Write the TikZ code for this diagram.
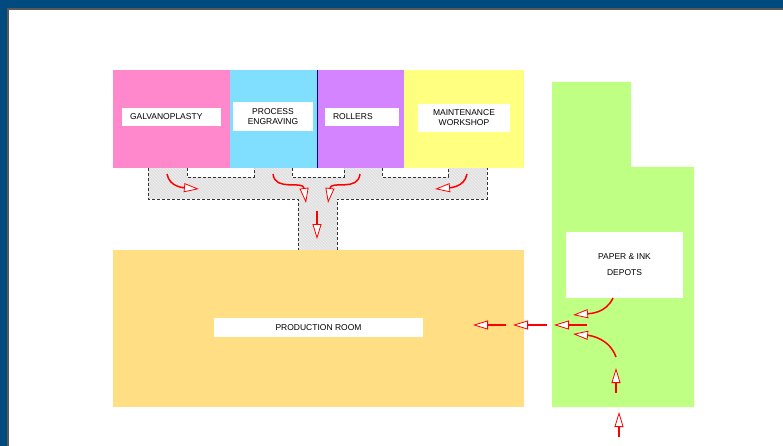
\documentclass[tikz,border=0pt]{standalone}
\usepackage{fontspec}
\setmainfont{Liberation Sans}
\usetikzlibrary{arrows.meta,patterns}

\definecolor{frameblue}{RGB}{0,74,127}
\definecolor{galvpink}{RGB}{255,136,204}
\definecolor{engrcyan}{RGB}{128,222,255}
\definecolor{rollpurple}{RGB}{212,132,255}
\definecolor{mainyellow}{RGB}{255,255,128}
\definecolor{prodorange}{RGB}{255,222,132}
\definecolor{depotgreen}{RGB}{190,255,132}
\definecolor{corrgray}{RGB}{224,224,224}
\definecolor{hatchgray}{RGB}{240,240,240}

\tikzset{
  roomlabel/.style={fill=white,inner sep=0pt,font=\fontsize{8.5}{10}\selectfont,align=center},
  flow/.style={draw=red,line width=1.5pt,-{Triangle[length=15pt,width=9pt,fill=white,line width=0.8pt]}},
  corredge/.style={gray!40!black,densely dashed,line width=0.6pt}
}

\begin{document}
\begin{tikzpicture}[x=1pt,y=1pt]
\useasboundingbox (0,0) rectangle (783,-446);
\fill [frameblue] (0,0) rectangle (783,-446);
\fill [gray!70!black] (7,-8) rectangle (783,-446);
\fill [white] (9,-10) rectangle (783,-446);
\fill [corrgray,postaction={pattern=north west lines,pattern color=hatchgray}] (148,-168) -- (148,-199) -- (298,-199) -- (298,-250) -- (337,-250) -- (337,-199) -- (487,-199) -- (487,-168) -- cycle;
\draw [corredge] (148,-168) -- (148,-199) -- (298,-199) -- (298,-250);
\draw [corredge] (337,-250) -- (337,-199) -- (487,-199) -- (487,-168);
\draw [corredge,fill=white] (187,-168) -- (187,-177) -- (254,-177) -- (254,-168);
\draw [corredge,fill=white] (292,-168) -- (292,-177) -- (344,-177) -- (344,-168);
\draw [corredge,fill=white] (382,-168) -- (382,-177) -- (448,-177) -- (448,-168);
\fill [galvpink] (113,-70) rectangle (230,-168);
\fill [engrcyan] (230,-70) rectangle (317,-168);
\fill [rollpurple] (317,-70) rectangle (404,-168);
\fill [mainyellow] (404,-70) rectangle (524,-168);
\draw [blue!80!black,line width=1pt] (317,-70) -- (317,-168);
\fill [prodorange] (113,-250) rectangle (524,-407);
\fill [depotgreen] (552,-82) -- (631,-82) -- (631,-167) -- (694,-167) -- (694,-407) -- (552,-407) -- cycle;
\node (galvano) [roomlabel,text width=83,align=left,inner xsep=8,minimum height=18] at (171.5,-117) {GALVANOPLASTY};
\node (engraving) [roomlabel,minimum width=80,minimum height=29] at (273,-116.5) {PROCESS\\ENGRAVING};
\node (rollers) [roomlabel,text width=58,align=left,inner xsep=8,minimum height=18] at (362,-117) {ROLLERS};
\node (maintenance) [roomlabel,minimum width=92,minimum height=28] at (464,-118) {MAINTENANCE\\WORKSHOP};
\node (production) [roomlabel,minimum width=209,minimum height=19] at (318.5,-327.5) {PRODUCTION ROOM};
\node (depots) [roomlabel,minimum width=117,minimum height=66,font=\fontsize{8.5}{16}\selectfont] at (624.5,-265) {PAPER \& INK\\DEPOTS};
\coordinate (galvout) at (167,-174);
\coordinate (galvin) at (199,-189);
\coordinate (engrout) at (273,-174);
\coordinate (engrin) at (306,-203);
\coordinate (rollout) at (360,-174);
\coordinate (rollin) at (328,-203);
\coordinate (mainout) at (467,-174);
\coordinate (mainin) at (435,-189);
\coordinate (stemtop) at (317,-211);
\coordinate (stembot) at (317,-239);
\coordinate (depotout) at (613,-298);
\coordinate (depotin) at (573,-315);
\coordinate (hubout) at (587,-325);
\coordinate (hubin) at (554,-325);
\coordinate (gapout) at (547,-325);
\coordinate (gapin) at (513,-325);
\coordinate (prodout) at (506,-325);
\coordinate (prodin) at (473,-325);
\coordinate (feedout) at (616,-357);
\coordinate (feedin) at (573,-334);
\coordinate (doorout) at (616,-393);
\coordinate (doorin) at (616,-368);
\coordinate (supplyout) at (619,-437);
\coordinate (supplyin) at (619,-412);
\draw [flow] (galvout) to [out=-80,in=175] (galvin);
\draw [flow] (engrout) .. controls (275,-192) and (303,-180) .. (engrin);
\draw [flow] (rollout) .. controls (358,-192) and (331,-180) .. (rollin);
\draw [flow] (mainout) to [out=-100,in=5] (mainin);
\draw [flow] (stemtop) -- (stembot);
\draw [flow] (depotout) to [out=-115,in=5] (depotin);
\draw [flow] (hubout) -- (hubin);
\draw [flow] (gapout) -- (gapin);
\draw [flow] (prodout) -- (prodin);
\draw [flow] (feedout) to [out=110,in=-5] (feedin);
\draw [flow] (doorout) -- (doorin);
\draw [flow] (supplyout) -- (supplyin);
\end{tikzpicture}
\end{document}
